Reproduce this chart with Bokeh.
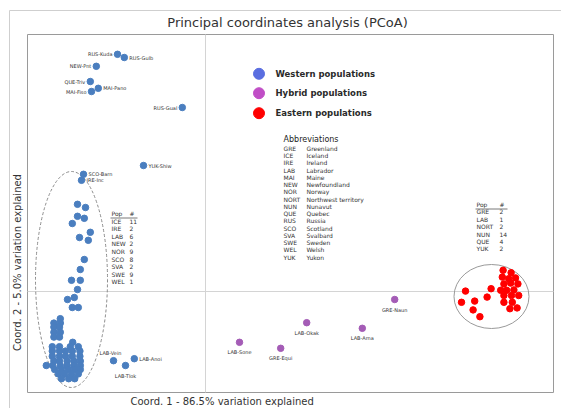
import numpy as np
from bokeh.plotting import figure
from bokeh.models import ColumnDataSource, Range1d
from bokeh.core.properties import value
from bokeh.embed import file_html
from bokeh.resources import INLINE

FONT = value("DejaVu Sans")

# ---------------- data (PCoA scores) ----------------
# Western populations: labelled individuals
west_lab_names = ["RUS-Kuda", "RUS-Gulb", "NEW-Pnt", "QUE-Triv", "MAI-Pano", "MAI-Fiso",
                  "RUS-Gual", "YUK-Shiw", "SCO-Barn", "IRE-Inc", "LAB-Vein", "LAB-Tlok", "LAB-Anoi"]
west_lab_c1 = [-0.220, -0.203, -0.273, -0.288, -0.268, -0.285, -0.058, -0.155, -0.305, -0.310, -0.230, -0.200, -0.178]
west_lab_c2 = [0.593, 0.585, 0.563, 0.525, 0.508, 0.500, 0.460, 0.315, 0.293, 0.278, -0.173, -0.185, -0.168]
west_lab_side = ["left", "right", "left", "left", "right", "left", "left", "right", "right", "right", "above", "below", "right"]

# Western populations: unlabelled individuals (inside dashed ellipse)
west_c1 = [-0.320, -0.300, -0.320, -0.303, -0.333, -0.288, -0.315, -0.293, -0.303, -0.313, -0.335, -0.313,
           -0.320, -0.328, -0.345, -0.333, -0.318,
           -0.363, -0.379, -0.363, -0.379, -0.365, -0.379, -0.363, -0.379, -0.365, -0.332,
           -0.383, -0.365, -0.338, -0.318,
           -0.383, -0.365, -0.350, -0.333, -0.314,
           -0.383, -0.365, -0.350, -0.333, -0.314,
           -0.379, -0.365, -0.346, -0.329, -0.313,
           -0.398, -0.382, -0.363, -0.346, -0.329, -0.313,
           -0.377, -0.360, -0.343, -0.327, -0.313,
           -0.368, -0.352, -0.335, -0.318,
           -0.360, -0.342, -0.327]
west_c2 = [0.218, 0.210, 0.188, 0.183, 0.170, 0.148, 0.135, 0.128, 0.080, 0.055, 0.028, 0.028,
           0.005, -0.015, -0.020, -0.040, -0.040,
           -0.068, -0.079, -0.079, -0.089, -0.089, -0.102, -0.102, -0.114, -0.114, -0.127,
           -0.138, -0.138, -0.138, -0.138,
           -0.149, -0.149, -0.149, -0.149, -0.149,
           -0.162, -0.162, -0.162, -0.162, -0.162,
           -0.174, -0.174, -0.174, -0.174, -0.174,
           -0.185, -0.185, -0.185, -0.185, -0.185, -0.185,
           -0.195, -0.195, -0.195, -0.195, -0.195,
           -0.206, -0.206, -0.206, -0.206,
           -0.218, -0.218, -0.218]

# Hybrid populations
hyb_names = ["GRE-Naun", "LAB-Okak", "LAB-Arna", "LAB-Sone", "GRE-Equi"]
hyb_c1 = [0.473, 0.253, 0.392, 0.085, 0.188]
hyb_c2 = [-0.020, -0.078, -0.092, -0.127, -0.142]

# Eastern populations
east_c1 = [0.744, 0.764, 0.742, 0.758, 0.775, 0.746, 0.763, 0.781, 0.714, 0.738, 0.753, 0.771,
           0.650, 0.746, 0.765, 0.783, 0.704, 0.640, 0.673, 0.746, 0.767, 0.669, 0.761, 0.779, 0.686]
east_c2 = [0.053, 0.047, 0.036, 0.032, 0.034, 0.019, 0.021, 0.019, 0.007, 0.003, 0.003, 0.004,
           0.001, -0.010, -0.010, -0.010, -0.014, -0.027, -0.024, -0.027, -0.027, -0.046, -0.043, -0.041, -0.063]

legend_labels = ["Western populations", "Hybrid populations", "Eastern populations"]

abbr_codes = ["GRE", "ICE", "IRE", "LAB", "MAI", "NEW", "NOR", "NORT", "NUN", "QUE",
              "RUS", "SCO", "SVA", "SWE", "WEL", "YUK"]
abbr_names = ["Greenland", "Iceland", "Ireland", "Labrador", "Maine", "Newfoundland", "Norway",
              "Northwest territory", "Nunavut", "Quebec", "Russia", "Scotland", "Svalbard",
              "Sweden", "Welsh", "Yukon"]

west_pop = ["ICE", "IRE", "LAB", "NEW", "NOR", "SCO", "SVA", "SWE", "WEL"]
west_n = [11, 2, 6, 2, 9, 8, 2, 9, 1]
east_pop = ["GRE", "LAB", "NORT", "NUN", "QUE", "YUK"]
east_n = [2, 1, 2, 14, 4, 2]

title_text = "Principal coordinates analysis (PCoA)"
xlabel = "Coord. 1 - 86.5% variation explained"
ylabel = "Coord. 2 - 5.0% variation explained"

# ---------------- layout helpers ----------------
W, H = 561, 408
X0, Y0, PPU = 205.0, 291.0, 400.0   # canvas pixel of origin, pixels per unit
def fx(px): return (px - X0) / PPU
def fy(py): return (Y0 - py) / PPU

FL, FR, FT, FB = 27, 553, 34, 392     # plot-area frame (canvas px)

BLUE, PURPLE, RED = "#4a7ebf", "#a45cb6", "#ff0000"
TXT = "#333333"

p = figure(width=W, height=H, output_backend="svg", toolbar_location=None,
           x_axis_type=None, y_axis_type=None,
           x_range=Range1d(fx(0), fx(W)), y_range=Range1d(fy(H), fy(0)),
           min_border=0, background_fill_color="white", border_fill_color="white")
p.outline_line_color = None

# outer chart box (only top/left visible) and plot-area frame
p.quad(left=[fx(9)], right=[fx(W + 10)], top=[fy(10)], bottom=[fy(H + 10)],
       fill_color=None, line_color="#cfcfcf", line_width=1)
p.quad(left=[fx(FL)], right=[fx(FR)], top=[fy(FT)], bottom=[fy(FB)],
       fill_color=None, line_color="#9a9a9a", line_width=1)

# zero lines
p.segment(x0=[0, fx(FL)], y0=[fy(FT), 0], x1=[0, fx(FR)], y1=[fy(FB), 0],
          line_color="#d4d4d4", line_width=1)

# group outlines
p.ellipse(x=[fx(71)], y=[fy(279)], width=[72 / PPU], height=[216 / PPU], fill_color=None,
          line_color="#8c8c8c", line_dash="3 2", line_width=1)
p.ellipse(x=[fx(491)], y=[fy(296)], width=[75 / PPU], height=[64 / PPU], fill_color=None,
          line_color="#9a9a9a", line_width=1)

# points
p.scatter(west_c1, west_c2, size=6.5, color=BLUE)
p.scatter(west_lab_c1, west_lab_c2, size=6.5, color=BLUE)
p.scatter(hyb_c1, hyb_c2, size=6.5, color=PURPLE)
p.scatter(east_c1, east_c2, size=6.5, color=RED)

# point labels
align_map = {"left": "right", "right": "left", "above": "center", "below": "center"}
xo_map = {"left": -5, "right": 5, "above": -3, "below": 0}
yo_map = {"left": 0, "right": 0, "above": -8, "below": 10}
lab_src = ColumnDataSource(dict(
    x=west_lab_c1 + hyb_c1, y=west_lab_c2 + hyb_c2, text=west_lab_names + hyb_names,
    align=[align_map[s] for s in west_lab_side] + ["center"] * len(hyb_names),
    xo=[xo_map[s] for s in west_lab_side] + [0] * len(hyb_names),
    yo=[yo_map[s] for s in west_lab_side] + [10] * len(hyb_names)))
p.text(x="x", y="y", text="text", source=lab_src, text_align="align", x_offset="xo", y_offset="yo",
       text_baseline="middle", text_font=FONT, text_font_size="5px", text_color=TXT)

# custom legend
leg_y = [fy(73.3), fy(92.7), fy(112.7)]
p.scatter([fx(258.5)] * 3, leg_y, size=11, color=["#5a6ee0", "#c04ec6", "#ff0000"])
p.text(x=[fx(275)] * 3, y=leg_y, text=legend_labels, text_baseline="middle", text_font=FONT,
       text_font_size="8.5px", text_font_style="bold", text_color="#2a2a2a")

# abbreviations
p.text(x=[fx(283)], y=[fy(139)], text=["Abbreviations"], text_baseline="middle", text_font=FONT,
       text_font_size="8px", text_color="#222222")
ab_y = [fy(147.7 + 7.27 * i) for i in range(len(abbr_codes))]
p.text(x=[fx(283)] * len(abbr_codes), y=ab_y, text=abbr_codes, text_baseline="middle",
       text_font=FONT, text_font_size="6px", text_color=TXT)
p.text(x=[fx(306)] * len(abbr_names), y=ab_y, text=abbr_names, text_baseline="middle",
       text_font=FONT, text_font_size="6px", text_color=TXT)

# population count tables
def pop_table(x_code, x_num, y_head, step, codes, counts):
    p.text(x=[fx(x_code), fx(x_num)], y=[fy(y_head)] * 2, text=["Pop", "#"], text_baseline="middle",
           text_font=FONT, text_font_size="6px", text_color=TXT)
    p.segment(x0=[fx(x_code - 1)], y0=[fy(y_head + 4.5)], x1=[fx(x_num + 8)], y1=[fy(y_head + 4.5)],
              line_color="#555555", line_width=0.8)
    ys = [fy(y_head + step * (i + 1)) for i in range(len(codes))]
    p.text(x=[fx(x_code)] * len(codes), y=ys, text=codes, text_baseline="middle",
           text_font=FONT, text_font_size="6px", text_color=TXT)
    p.text(x=[fx(x_num)] * len(codes), y=ys, text=[str(n) for n in counts], text_baseline="middle",
           text_font=FONT, text_font_size="6px", text_color=TXT)

pop_table(111, 129, 213, 7.6, west_pop, west_n)
pop_table(476, 499, 204, 7.4, east_pop, east_n)

# title and axis titles
p.text(x=[fx(287)], y=[fy(21.5)], text=[title_text], text_align="center", text_baseline="middle",
       text_font=FONT, text_font_size="13px", text_color=TXT)
p.text(x=[fx(130)], y=[fy(401)], text=[xlabel], text_align="left", text_baseline="middle",
       text_font=FONT, text_font_size="10px", text_color=TXT)
p.text(x=[fx(17)], y=[fy(262)], text=[ylabel], angle=np.pi / 2, text_align="center",
       text_baseline="middle", text_font=FONT, text_font_size="10px", text_color=TXT)

open("out.html", "w").write(file_html(p, INLINE))
